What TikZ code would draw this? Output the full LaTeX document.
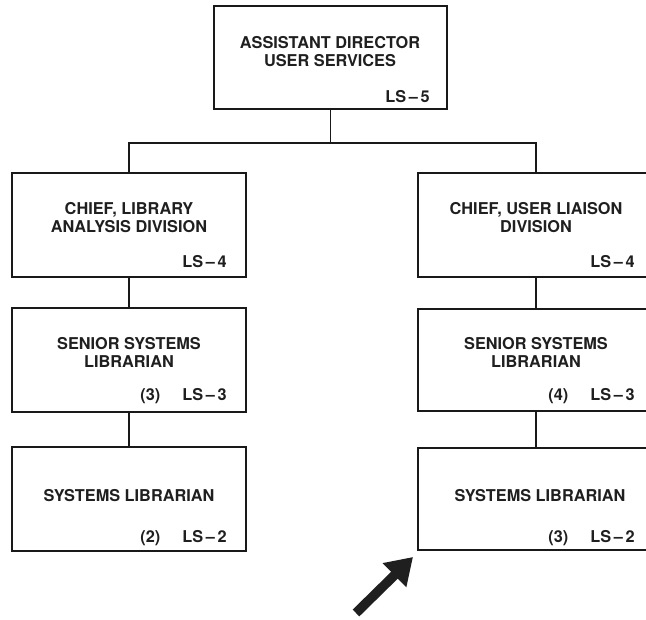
\documentclass[tikz,border=0pt]{standalone}
\usepackage{fontspec}
\setmainfont{TeX Gyre Heros}
\usetikzlibrary{arrows.meta}
\tikzset{
  orgbox/.style={draw=black!90, line width=1.8pt, minimum width=#1, inner sep=0pt},
  orgbox/.default=234pt,
  boxtitle/.style={font=\fontsize{16.3pt}{18pt}\selectfont\bfseries, align=center, inner sep=0pt, text=black!88},
  grade/.style={font=\fontsize{16.3pt}{18pt}\selectfont\bfseries, anchor=base east, inner sep=0pt, text=black!88},
  link/.style={draw=black!90, line width=1.6pt},
  bigarrow/.style={line width=9.5pt, draw=black!88, -{Triangle[length=26pt,width=32pt,fill=black!88]}}
}
\newcommand{\dashLS}[1]{LS\,–\,#1}
\begin{document}
\begin{tikzpicture}[x=1pt,y=-1pt]
\useasboundingbox (0,0) rectangle (646,620);
\clip (0,0) rectangle (646,620);
\fill[white] (0,0) rectangle (646,620);
% boxes
\node[orgbox=233pt, minimum height=103pt] (top) at (330.5,57.5) {};
\node[orgbox, minimum height=104pt] (l1) at (129,225) {};
\node[orgbox, minimum height=104pt] (l2) at (129,360) {};
\node[orgbox, minimum height=104pt] (l3) at (129,499) {};
\node[orgbox=236pt, minimum height=104pt] (r1) at (536,225) {};
\node[orgbox=236pt, minimum height=102pt] (r2) at (536,360) {};
\node[orgbox=236pt, minimum height=102pt] (r3) at (536,499) {};
% titles
\node[boxtitle] (topt) at (330,51.5) {ASSISTANT DIRECTOR\\USER SERVICES};
\node[boxtitle] (l1t) at (129,218) {CHIEF, LIBRARY\\ANALYSIS DIVISION};
\node[boxtitle] (l2t) at (129,352.5) {SENIOR SYSTEMS\\LIBRARIAN};
\node[boxtitle] (l3t) at (129,496) {SYSTEMS LIBRARIAN};
\node[boxtitle] (r1t) at (536,218) {CHIEF, USER LIAISON\\DIVISION};
\node[boxtitle] (r2t) at (536,352.5) {SENIOR SYSTEMS\\LIBRARIAN};
\node[boxtitle] (r3t) at (540,496) {SYSTEMS LIBRARIAN};
% grades
\node[grade] (topg) at (430,103) {\dashLS{5}};
\node[grade] (l1g) at (227,268) {\dashLS{4}};
\node[grade] (l2g) at (227,401) {(3)\hspace{22pt}\dashLS{3}};
\node[grade] (l3g) at (227,543) {(2)\hspace{22pt}\dashLS{2}};
\node[grade] (r1g) at (635,268) {\dashLS{4}};
\node[grade] (r2g) at (635,401) {(4)\hspace{22pt}\dashLS{3}};
\node[grade] (r3g) at (635,543) {(3)\hspace{22pt}\dashLS{2}};
% connectors
\coordinate (j) at (333,143);
\draw[link] (top.south) -- (top.south |- j);
\draw[link] (l1.north) -- (l1.north |- j) -- (r1.north |- j) -- (r1.north);
\draw[link] (l1.south) -- (l2.north);
\draw[link] (l2.south) -- (l3.north);
\draw[link] (r1.south) -- (r2.north);
\draw[link] (r2.south) -- (r3.north);
% pointer arrow
\coordinate (atail) at (356,613);
\coordinate (atip) at (413,557);
\draw[bigarrow] (atail) -- (atip);
\end{tikzpicture}
\end{document}
